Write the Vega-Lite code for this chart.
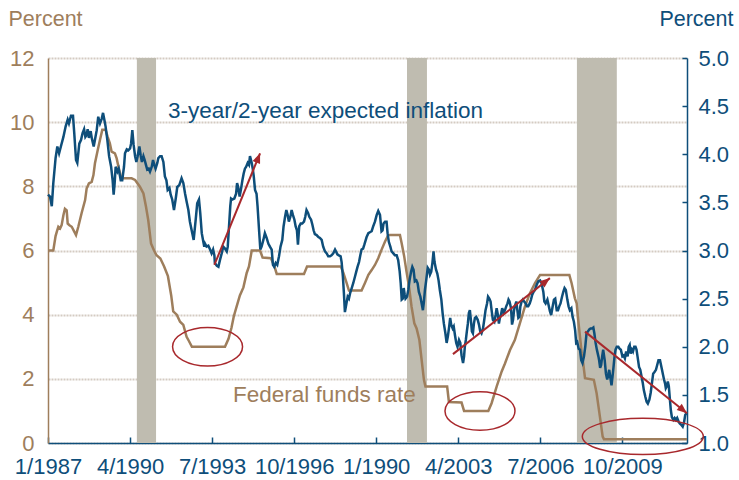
{
  "$schema": "https://vega.github.io/schema/vega-lite/v6.json",
  "width": 639,
  "height": 385,
  "autosize": {"type": "none"},
  "padding": {"left": 48, "top": 58, "right": 52, "bottom": 37},
  "background": "white",
  "config": {
    "view": {"stroke": null},
    "font": "Liberation Sans",
    "axis": {"labelFont": "Liberation Sans", "titleFont": "Liberation Sans"}
  },
  "datasets": {
    "blue": [
      {"t":1987.00,"r":3.58},{"t":1987.08,"r":3.56},{"t":1987.15,"r":3.46},{"t":1987.21,"r":3.70},{"t":1987.30,"r":3.96},{"t":1987.37,"r":4.08},{"t":1987.44,"r":4.01},{"t":1987.51,"r":4.08},{"t":1987.61,"r":4.18},{"t":1987.70,"r":4.29},{"t":1987.78,"r":4.36},{"t":1987.83,"r":4.32},{"t":1987.91,"r":4.40},{"t":1987.99,"r":4.40},
      {"t":1988.04,"r":4.22},{"t":1988.11,"r":3.94},{"t":1988.16,"r":3.91},{"t":1988.24,"r":4.11},{"t":1988.31,"r":4.15},{"t":1988.37,"r":4.22},{"t":1988.43,"r":4.26},{"t":1988.48,"r":4.18},{"t":1988.53,"r":4.20},{"t":1988.57,"r":4.26},{"t":1988.62,"r":4.17},{"t":1988.69,"r":4.24},{"t":1988.74,"r":4.16},{"t":1988.81,"r":4.08},{"t":1988.86,"r":4.15},{"t":1988.93,"r":4.25},{"t":1988.99,"r":4.39},
      {"t":1989.06,"r":4.32},{"t":1989.13,"r":4.37},{"t":1989.18,"r":4.43},{"t":1989.23,"r":4.36},{"t":1989.28,"r":4.29},{"t":1989.35,"r":4.15},{"t":1989.42,"r":3.98},{"t":1989.50,"r":3.87},{"t":1989.56,"r":3.73},{"t":1989.60,"r":3.58},{"t":1989.64,"r":3.70},{"t":1989.68,"r":3.87},{"t":1989.75,"r":3.82},{"t":1989.80,"r":3.85},{"t":1989.88,"r":3.73},{"t":1989.94,"r":3.73},
      {"t":1990.01,"r":3.87},{"t":1990.05,"r":4.01},{"t":1990.12,"r":4.05},{"t":1990.18,"r":4.04},{"t":1990.25,"r":4.06},{"t":1990.29,"r":4.11},{"t":1990.34,"r":4.25},{"t":1990.39,"r":4.10},{"t":1990.45,"r":3.98},{"t":1990.50,"r":3.92},{"t":1990.55,"r":3.98},{"t":1990.62,"r":4.08},{"t":1990.67,"r":3.99},{"t":1990.72,"r":3.92},{"t":1990.78,"r":3.98},{"t":1990.83,"r":3.94},{"t":1990.88,"r":3.89},{"t":1990.93,"r":3.84},{"t":1990.99,"r":3.85},
      {"t":1991.04,"r":3.82},{"t":1991.11,"r":3.87},{"t":1991.16,"r":3.94},{"t":1991.21,"r":3.89},{"t":1991.26,"r":3.85},{"t":1991.33,"r":3.91},{"t":1991.37,"r":3.96},{"t":1991.44,"r":3.98},{"t":1991.50,"r":3.98},{"t":1991.57,"r":3.92},{"t":1991.63,"r":3.77},{"t":1991.69,"r":3.73},{"t":1991.74,"r":3.63},{"t":1991.81,"r":3.65},{"t":1991.86,"r":3.58},{"t":1991.92,"r":3.53},{"t":1991.99,"r":3.42},
      {"t":1992.06,"r":3.54},{"t":1992.12,"r":3.66},{"t":1992.20,"r":3.68},{"t":1992.29,"r":3.75},{"t":1992.36,"r":3.70},{"t":1992.43,"r":3.59},{"t":1992.49,"r":3.51},{"t":1992.56,"r":3.42},{"t":1992.62,"r":3.30},{"t":1992.69,"r":3.21},{"t":1992.77,"r":3.11},{"t":1992.85,"r":3.32},{"t":1992.91,"r":3.49},{"t":1992.98,"r":3.53},
      {"t":1993.03,"r":3.39},{"t":1993.09,"r":3.18},{"t":1993.14,"r":3.11},{"t":1993.19,"r":3.04},{"t":1993.22,"r":3.07},{"t":1993.28,"r":3.04},{"t":1993.35,"r":3.05},{"t":1993.42,"r":3.01},{"t":1993.48,"r":2.97},{"t":1993.54,"r":3.01},{"t":1993.59,"r":2.95},{"t":1993.61,"r":2.87},{"t":1993.69,"r":2.84},{"t":1993.75,"r":2.83},{"t":1993.81,"r":2.90},{"t":1993.88,"r":2.97},{"t":1993.94,"r":3.04},
      {"t":1994.01,"r":3.02},{"t":1994.08,"r":2.99},{"t":1994.12,"r":3.04},{"t":1994.17,"r":3.25},{"t":1994.22,"r":3.46},{"t":1994.25,"r":3.54},{"t":1994.30,"r":3.53},{"t":1994.38,"r":3.54},{"t":1994.45,"r":3.59},{"t":1994.49,"r":3.70},{"t":1994.54,"r":3.65},{"t":1994.59,"r":3.56},{"t":1994.64,"r":3.63},{"t":1994.70,"r":3.73},{"t":1994.75,"r":3.80},{"t":1994.80,"r":3.85},{"t":1994.85,"r":3.87},{"t":1994.91,"r":3.91},{"t":1994.96,"r":3.89},
      {"t":1995.00,"r":3.98},{"t":1995.07,"r":3.91},{"t":1995.11,"r":3.85},{"t":1995.15,"r":3.77},{"t":1995.20,"r":3.63},{"t":1995.26,"r":3.59},{"t":1995.30,"r":3.46},{"t":1995.36,"r":3.21},{"t":1995.41,"r":3.01},{"t":1995.46,"r":3.04},{"t":1995.53,"r":3.11},{"t":1995.59,"r":3.18},{"t":1995.66,"r":3.13},{"t":1995.73,"r":3.07},{"t":1995.79,"r":3.04},{"t":1995.86,"r":3.01},{"t":1995.91,"r":2.85},{"t":1995.96,"r":2.83},
      {"t":1996.02,"r":2.87},{"t":1996.08,"r":2.85},{"t":1996.15,"r":2.94},{"t":1996.21,"r":3.04},{"t":1996.28,"r":3.11},{"t":1996.33,"r":3.25},{"t":1996.39,"r":3.35},{"t":1996.44,"r":3.42},{"t":1996.49,"r":3.37},{"t":1996.54,"r":3.30},{"t":1996.60,"r":3.35},{"t":1996.65,"r":3.42},{"t":1996.70,"r":3.37},{"t":1996.76,"r":3.32},{"t":1996.81,"r":3.25},{"t":1996.86,"r":3.21},{"t":1996.90,"r":3.06},{"t":1996.95,"r":3.25},
      {"t":1997.01,"r":3.28},{"t":1997.07,"r":3.28},{"t":1997.14,"r":3.30},{"t":1997.19,"r":3.35},{"t":1997.24,"r":3.42},{"t":1997.30,"r":3.39},{"t":1997.35,"r":3.35},{"t":1997.42,"r":3.32},{"t":1997.47,"r":3.27},{"t":1997.52,"r":3.21},{"t":1997.57,"r":3.17},{"t":1997.64,"r":3.16},{"t":1997.71,"r":3.14},{"t":1997.77,"r":3.13},{"t":1997.84,"r":3.11},{"t":1997.90,"r":3.04},{"t":1997.97,"r":2.99},
      {"t":1998.04,"r":2.97},{"t":1998.10,"r":2.94},{"t":1998.17,"r":2.94},{"t":1998.23,"r":2.95},{"t":1998.30,"r":2.97},{"t":1998.37,"r":3.01},{"t":1998.41,"r":2.99},{"t":1998.46,"r":2.96},{"t":1998.52,"r":2.95},{"t":1998.59,"r":2.94},{"t":1998.63,"r":2.88},{"t":1998.68,"r":2.73},{"t":1998.72,"r":2.56},{"t":1998.76,"r":2.36},{"t":1998.82,"r":2.45},{"t":1998.87,"r":2.52},{"t":1998.92,"r":2.50},{"t":1998.97,"r":2.56},
      {"t":1999.03,"r":2.61},{"t":1999.09,"r":2.66},{"t":1999.16,"r":2.73},{"t":1999.21,"r":2.78},{"t":1999.26,"r":2.83},{"t":1999.32,"r":2.88},{"t":1999.37,"r":2.95},{"t":1999.42,"r":3.01},{"t":1999.48,"r":3.02},{"t":1999.53,"r":3.06},{"t":1999.62,"r":3.14},{"t":1999.69,"r":3.18},{"t":1999.75,"r":3.19},{"t":1999.82,"r":3.20},{"t":1999.88,"r":3.25},{"t":1999.95,"r":3.30},
      {"t":2000.02,"r":3.37},{"t":2000.08,"r":3.41},{"t":2000.15,"r":3.37},{"t":2000.21,"r":3.20},{"t":2000.25,"r":3.21},{"t":2000.29,"r":3.28},{"t":2000.35,"r":3.30},{"t":2000.41,"r":3.30},{"t":2000.45,"r":3.18},{"t":2000.50,"r":3.09},{"t":2000.56,"r":3.04},{"t":2000.61,"r":2.99},{"t":2000.68,"r":2.97},{"t":2000.74,"r":2.95},{"t":2000.81,"r":2.95},{"t":2000.87,"r":2.90},{"t":2000.93,"r":2.78},{"t":2000.97,"r":2.66},
      {"t":2001.01,"r":2.49},{"t":2001.05,"r":2.50},{"t":2001.09,"r":2.61},{"t":2001.13,"r":2.54},{"t":2001.16,"r":2.50},{"t":2001.22,"r":2.52},{"t":2001.27,"r":2.59},{"t":2001.32,"r":2.69},{"t":2001.38,"r":2.78},{"t":2001.43,"r":2.83},{"t":2001.48,"r":2.80},{"t":2001.53,"r":2.68},{"t":2001.59,"r":2.69},{"t":2001.64,"r":2.66},{"t":2001.69,"r":2.57},{"t":2001.75,"r":2.52},{"t":2001.80,"r":2.45},{"t":2001.85,"r":2.38},{"t":2001.89,"r":2.47},{"t":2001.93,"r":2.59},{"t":2001.98,"r":2.69},
      {"t":2002.04,"r":2.82},{"t":2002.09,"r":2.80},{"t":2002.13,"r":2.75},{"t":2002.18,"r":2.78},{"t":2002.23,"r":2.88},{"t":2002.27,"r":2.99},{"t":2002.31,"r":2.88},{"t":2002.37,"r":2.80},{"t":2002.42,"r":2.76},{"t":2002.47,"r":2.69},{"t":2002.52,"r":2.59},{"t":2002.58,"r":2.49},{"t":2002.63,"r":2.35},{"t":2002.68,"r":2.24},{"t":2002.74,"r":2.14},{"t":2002.79,"r":2.04},{"t":2002.84,"r":2.11},{"t":2002.89,"r":2.21},{"t":2002.93,"r":2.30},{"t":2002.97,"r":2.23},
      {"t":2003.03,"r":2.19},{"t":2003.07,"r":2.21},{"t":2003.12,"r":2.12},{"t":2003.17,"r":2.04},{"t":2003.22,"r":2.00},{"t":2003.28,"r":2.07},{"t":2003.33,"r":2.04},{"t":2003.38,"r":1.91},{"t":2003.44,"r":1.83},{"t":2003.48,"r":1.90},{"t":2003.51,"r":2.00},{"t":2003.55,"r":2.07},{"t":2003.59,"r":2.16},{"t":2003.63,"r":2.24},{"t":2003.67,"r":2.35},{"t":2003.71,"r":2.38},{"t":2003.75,"r":2.28},{"t":2003.79,"r":2.16},{"t":2003.83,"r":2.14},{"t":2003.87,"r":2.24},{"t":2003.91,"r":2.30},{"t":2003.96,"r":2.31},
      {"t":2004.02,"r":2.28},{"t":2004.07,"r":2.23},{"t":2004.12,"r":2.16},{"t":2004.17,"r":2.14},{"t":2004.23,"r":2.19},{"t":2004.28,"r":2.28},{"t":2004.33,"r":2.38},{"t":2004.39,"r":2.45},{"t":2004.43,"r":2.52},{"t":2004.48,"r":2.50},{"t":2004.53,"r":2.47},{"t":2004.57,"r":2.38},{"t":2004.62,"r":2.28},{"t":2004.68,"r":2.26},{"t":2004.73,"r":2.33},{"t":2004.77,"r":2.40},{"t":2004.82,"r":2.33},{"t":2004.86,"r":2.24},{"t":2004.90,"r":2.30},{"t":2004.94,"r":2.33},{"t":2004.99,"r":2.40},
      {"t":2005.05,"r":2.35},{"t":2005.10,"r":2.38},{"t":2005.15,"r":2.42},{"t":2005.20,"r":2.45},{"t":2005.24,"r":2.49},{"t":2005.28,"r":2.47},{"t":2005.34,"r":2.40},{"t":2005.38,"r":2.23},{"t":2005.42,"r":2.28},{"t":2005.46,"r":2.38},{"t":2005.49,"r":2.42},{"t":2005.55,"r":2.47},{"t":2005.59,"r":2.38},{"t":2005.63,"r":2.30},{"t":2005.67,"r":2.31},{"t":2005.71,"r":2.42},{"t":2005.76,"r":2.47},{"t":2005.81,"r":2.49},{"t":2005.86,"r":2.47},{"t":2005.92,"r":2.45},{"t":2005.97,"r":2.42},
      {"t":2006.02,"r":2.42},{"t":2006.08,"r":2.45},{"t":2006.13,"r":2.49},{"t":2006.18,"r":2.54},{"t":2006.23,"r":2.57},{"t":2006.29,"r":2.59},{"t":2006.35,"r":2.64},{"t":2006.42,"r":2.68},{"t":2006.49,"r":2.69},{"t":2006.55,"r":2.66},{"t":2006.62,"r":2.57},{"t":2006.66,"r":2.47},{"t":2006.71,"r":2.45},{"t":2006.78,"r":2.49},{"t":2006.83,"r":2.43},{"t":2006.88,"r":2.37},{"t":2006.93,"r":2.33},{"t":2006.99,"r":2.42},
      {"t":2007.04,"r":2.49},{"t":2007.09,"r":2.50},{"t":2007.15,"r":2.38},{"t":2007.20,"r":2.38},{"t":2007.25,"r":2.42},{"t":2007.30,"r":2.45},{"t":2007.36,"r":2.52},{"t":2007.41,"r":2.57},{"t":2007.46,"r":2.61},{"t":2007.51,"r":2.59},{"t":2007.57,"r":2.49},{"t":2007.62,"r":2.42},{"t":2007.67,"r":2.38},{"t":2007.73,"r":2.40},{"t":2007.78,"r":2.31},{"t":2007.83,"r":2.26},{"t":2007.88,"r":2.17},{"t":2007.92,"r":2.04},{"t":2007.96,"r":2.05},
      {"t":2008.02,"r":1.98},{"t":2008.07,"r":1.97},{"t":2008.12,"r":1.86},{"t":2008.17,"r":1.83},{"t":2008.23,"r":1.90},{"t":2008.28,"r":2.00},{"t":2008.33,"r":2.14},{"t":2008.39,"r":2.16},{"t":2008.44,"r":2.18},{"t":2008.49,"r":2.19},{"t":2008.55,"r":2.19},{"t":2008.60,"r":2.20},{"t":2008.64,"r":2.14},{"t":2008.69,"r":2.04},{"t":2008.74,"r":1.97},{"t":2008.80,"r":1.90},{"t":2008.83,"r":1.86},{"t":2008.87,"r":1.78},{"t":2008.91,"r":1.81},{"t":2008.95,"r":1.90},{"t":2008.99,"r":1.97},
      {"t":2009.05,"r":1.86},{"t":2009.10,"r":1.72},{"t":2009.15,"r":1.66},{"t":2009.19,"r":1.71},{"t":2009.23,"r":1.76},{"t":2009.28,"r":1.67},{"t":2009.32,"r":1.60},{"t":2009.36,"r":1.69},{"t":2009.40,"r":1.79},{"t":2009.44,"r":1.90},{"t":2009.48,"r":1.97},{"t":2009.53,"r":2.00},{"t":2009.59,"r":2.00},{"t":2009.64,"r":1.98},{"t":2009.69,"r":1.97},{"t":2009.75,"r":1.90},{"t":2009.80,"r":1.91},{"t":2009.85,"r":1.88},{"t":2009.90,"r":1.95},{"t":2009.96,"r":1.90},
      {"t":2010.00,"r":2.00},{"t":2010.04,"r":2.02},{"t":2010.08,"r":1.93},{"t":2010.13,"r":1.97},{"t":2010.17,"r":1.95},{"t":2010.22,"r":2.00},{"t":2010.27,"r":2.00},{"t":2010.31,"r":1.97},{"t":2010.35,"r":1.90},{"t":2010.41,"r":1.79},{"t":2010.46,"r":1.76},{"t":2010.51,"r":1.69},{"t":2010.56,"r":1.62},{"t":2010.60,"r":1.55},{"t":2010.66,"r":1.48},{"t":2010.71,"r":1.43},{"t":2010.76,"r":1.41},{"t":2010.82,"r":1.45},{"t":2010.87,"r":1.52},{"t":2010.92,"r":1.62},{"t":2010.97,"r":1.72},
      {"t":2011.03,"r":1.74},{"t":2011.08,"r":1.76},{"t":2011.13,"r":1.81},{"t":2011.18,"r":1.86},{"t":2011.24,"r":1.86},{"t":2011.28,"r":1.81},{"t":2011.32,"r":1.76},{"t":2011.36,"r":1.71},{"t":2011.40,"r":1.66},{"t":2011.44,"r":1.62},{"t":2011.47,"r":1.57},{"t":2011.51,"r":1.59},{"t":2011.55,"r":1.64},{"t":2011.59,"r":1.59},{"t":2011.63,"r":1.46},{"t":2011.67,"r":1.34},{"t":2011.71,"r":1.27},{"t":2011.77,"r":1.24},{"t":2011.82,"r":1.26},{"t":2011.87,"r":1.24},{"t":2011.92,"r":1.26},{"t":2011.98,"r":1.22},
      {"t":2012.03,"r":1.20},{"t":2012.08,"r":1.19},{"t":2012.14,"r":1.17},{"t":2012.19,"r":1.21},{"t":2012.24,"r":1.29},{"t":2012.29,"r":1.31}
    ],
    "ff": [
      {"t":1987.00,"ff":6.00},{"t":1987.21,"ff":6.00},{"t":1987.30,"ff":6.45},{"t":1987.35,"ff":6.59},{"t":1987.41,"ff":6.74},{"t":1987.48,"ff":6.69},{"t":1987.54,"ff":6.79},{"t":1987.61,"ff":7.10},{"t":1987.67,"ff":7.30},{"t":1987.74,"ff":7.25},{"t":1987.78,"ff":6.84},{"t":1987.85,"ff":6.79},{"t":1987.94,"ff":6.74},
      {"t":1988.04,"ff":6.59},{"t":1988.11,"ff":6.48},{"t":1988.20,"ff":6.74},{"t":1988.33,"ff":7.16},{"t":1988.47,"ff":7.57},{"t":1988.53,"ff":7.93},{"t":1988.62,"ff":8.09},{"t":1988.73,"ff":8.14},{"t":1988.80,"ff":8.35},{"t":1988.86,"ff":8.72},{"t":1988.97,"ff":9.13},
      {"t":1989.06,"ff":9.45},{"t":1989.15,"ff":9.76},{"t":1989.28,"ff":9.76},{"t":1989.36,"ff":9.55},{"t":1989.45,"ff":9.34},{"t":1989.52,"ff":9.08},{"t":1989.65,"ff":9.03},{"t":1989.72,"ff":8.87},{"t":1989.79,"ff":8.61},{"t":1989.89,"ff":8.30},{"t":1989.98,"ff":8.25},
      {"t":1990.31,"ff":8.25},{"t":1990.45,"ff":8.20},{"t":1990.64,"ff":7.99},{"t":1990.78,"ff":7.78},{"t":1990.88,"ff":7.37},{"t":1990.97,"ff":6.95},{"t":1991.08,"ff":6.22},{"t":1991.20,"ff":6.00},{"t":1991.30,"ff":5.85},{"t":1991.45,"ff":5.75},{"t":1991.60,"ff":5.50},{"t":1991.75,"ff":5.20},{"t":1991.88,"ff":4.60},{"t":1991.96,"ff":4.10},
      {"t":1992.10,"ff":4.00},{"t":1992.23,"ff":3.78},{"t":1992.36,"ff":3.68},{"t":1992.49,"ff":3.31},{"t":1992.56,"ff":3.21},{"t":1992.70,"ff":3.00},{"t":1994.01,"ff":3.00},{"t":1994.15,"ff":3.25},{"t":1994.27,"ff":3.60},{"t":1994.36,"ff":3.95},{"t":1994.47,"ff":4.25},{"t":1994.60,"ff":4.60},{"t":1994.74,"ff":4.85},{"t":1994.87,"ff":5.30},{"t":1994.96,"ff":5.50},
      {"t":1995.07,"ff":6.00},{"t":1995.40,"ff":6.00},{"t":1995.50,"ff":5.78},{"t":1995.83,"ff":5.76},{"t":1995.97,"ff":5.50},{"t":1996.06,"ff":5.27},{"t":1997.14,"ff":5.27},{"t":1997.26,"ff":5.50},{"t":1998.60,"ff":5.50},{"t":1998.70,"ff":5.30},{"t":1998.83,"ff":4.98},{"t":1998.92,"ff":4.75},
      {"t":1999.42,"ff":4.75},{"t":1999.55,"ff":4.98},{"t":1999.69,"ff":5.24},{"t":1999.82,"ff":5.39},{"t":1999.95,"ff":5.55},{"t":2000.08,"ff":5.76},{"t":2000.21,"ff":6.02},{"t":2000.35,"ff":6.28},{"t":2000.48,"ff":6.48},{"t":2000.94,"ff":6.48},
      {"t":2001.01,"ff":6.22},{"t":2001.11,"ff":5.81},{"t":2001.20,"ff":5.34},{"t":2001.30,"ff":4.87},{"t":2001.40,"ff":4.25},{"t":2001.51,"ff":3.73},{"t":2001.60,"ff":3.57},{"t":2001.71,"ff":3.21},{"t":2001.80,"ff":2.58},{"t":2001.89,"ff":1.97},{"t":2001.95,"ff":1.76},
      {"t":2002.81,"ff":1.76},{"t":2002.88,"ff":1.28},{"t":2003.38,"ff":1.26},{"t":2003.48,"ff":1.00},{"t":2004.44,"ff":1.00},{"t":2004.57,"ff":1.24},{"t":2004.77,"ff":1.76},{"t":2004.97,"ff":2.23},{"t":2005.10,"ff":2.48},{"t":2005.30,"ff":2.90},{"t":2005.49,"ff":3.21},{"t":2005.69,"ff":3.73},{"t":2005.89,"ff":4.25},
      {"t":2006.09,"ff":4.67},{"t":2006.29,"ff":4.98},{"t":2006.49,"ff":5.24},{"t":2007.65,"ff":5.24},{"t":2007.74,"ff":4.98},{"t":2007.87,"ff":4.51},{"t":2007.94,"ff":4.35},{"t":2008.00,"ff":3.84},{"t":2008.07,"ff":3.32},{"t":2008.14,"ff":2.80},{"t":2008.20,"ff":2.48},{"t":2008.27,"ff":2.02},{"t":2008.62,"ff":1.97},{"t":2008.73,"ff":1.55},{"t":2008.86,"ff":0.82},{"t":2008.97,"ff":0.20},
      {"t":2009.02,"ff":0.12},{"t":2012.31,"ff":0.12}
    ],
    "arrows": [
      {"id":1,"t":1993.59,"v":2.85,"t2":1995.40,"v2":4.01},
      {"id":2,"t":2003.04,"v":1.923,"t2":2006.88,"v2":2.713},
      {"id":3,"t":2008.27,"v":2.157,"t2":2012.31,"v2":1.31}
    ],
    "ellipses": [
      {"g":"a","t":1993.32,"v":2.0},
      {"g":"a","t":2004.11,"v":1.333},
      {"g":"b","t":2010.56,"v":1.068}
    ]
  },
  "layer": [
    {
      "layer": [
        {
          "data": {"values": [{"t":1990.52,"t2":1991.28},{"t":2001.22,"t2":2002.01},{"t":2007.95,"t2":2009.53}]},
          "mark": {"type": "rect", "color": "#BFBCB0"},
          "encoding": {
            "x": {"field": "t", "type": "quantitative"},
            "x2": {"field": "t2"},
            "y": {"datum": 12, "type": "quantitative"},
            "y2": {"datum": 0}
          }
        },
        {
          "data": {"name": "ff"},
          "mark": {"type": "line", "color": "#9E7E5C", "strokeWidth": 2.5},
          "encoding": {
            "x": {
              "field": "t", "type": "quantitative",
              "scale": {"domain": [1987, 2012.31], "nice": false, "zero": false},
              "axis": {
                "values": [1987, 1990.25, 1993.5, 1996.75, 2000, 2003.25, 2006.5, 2009.75],
                "labelExpr": "datum.value == 2000 ? '1/1990' : (round((datum.value - floor(datum.value)) * 12) + 1) + '/' + floor(datum.value)",
                "title": null, "grid": false,
                "domainColor": "#0E4E7A", "domainWidth": 1.5,
                "tickColor": "#0E4E7A", "tickSize": -6, "tickWidth": 1.5,
                "labelColor": "#0E4E7A", "labelFontSize": 22, "labelPadding": 19, "labelFlush": false
              }
            },
            "y": {
              "field": "ff", "type": "quantitative",
              "scale": {"domain": [0, 12], "nice": false, "zero": false},
              "axis": {
                "values": [0, 2, 4, 6, 8, 10, 12],
                "grid": true, "gridColor": "#D4CBC2", "gridWidth": 2, "gridDash": [2, 1],
                "ticks": false,
                "domainColor": "#9E7E5C", "domainWidth": 1.5,
                "labelColor": "#9E7E5C", "labelFontSize": 22, "labelPadding": 14,
                "title": "Percent", "titleAngle": 0, "titleAlign": "left", "titleBaseline": "alphabetic",
                "titleX": -40, "titleY": -33, "titleColor": "#9E7E5C", "titleFontSize": 21.5, "titleFontWeight": "normal"
              }
            }
          }
        },
        {
          "data": {"values": [{"t": 1994.33, "v": 1.29, "label": "Federal funds rate"}]},
          "mark": {"type": "text", "align": "left", "baseline": "alphabetic", "fontSize": 22.5, "color": "#9E7E5C"},
          "encoding": {
            "x": {"field": "t", "type": "quantitative"},
            "y": {"field": "v", "type": "quantitative"},
            "text": {"field": "label"}
          }
        }
      ]
    },
    {
      "layer": [
        {
          "data": {"name": "blue"},
          "mark": {"type": "line", "color": "#0E4E7A", "strokeWidth": 2.5},
          "encoding": {
            "x": {"field": "t", "type": "quantitative"},
            "y": {
              "field": "r", "type": "quantitative",
              "scale": {"domain": [1, 5], "nice": false, "zero": false},
              "axis": {
                "orient": "right",
                "values": [1, 1.5, 2, 2.5, 3, 3.5, 4, 4.5, 5], "format": ".1f",
                "grid": false,
                "domainColor": "#0E4E7A", "domainWidth": 1.5,
                "tickColor": "#0E4E7A", "tickSize": -5, "tickWidth": 1.5,
                "labelColor": "#0E4E7A", "labelFontSize": 22, "labelPadding": 16,
                "title": "Percent", "titleAngle": 0, "titleAlign": "right", "titleBaseline": "alphabetic",
                "titleX": 46, "titleY": -33, "titleColor": "#0E4E7A", "titleFontSize": 21.5, "titleFontWeight": "normal"
              }
            }
          }
        },
        {
          "data": {"name": "arrows"},
          "mark": {"type": "rule", "color": "#A8282C", "strokeWidth": 2},
          "encoding": {
            "x": {"field": "t", "type": "quantitative"},
            "y": {"field": "v", "type": "quantitative"},
            "x2": {"field": "t2"},
            "y2": {"field": "v2"}
          }
        },
        {
          "data": {"name": "arrows"},
          "transform": [{"filter": "datum.id == 1"}],
          "mark": {"type": "point", "shape": "M0,0 L0.8,2 L-0.8,2 Z", "size": 100, "filled": true, "color": "#A8282C", "opacity": 1, "angle": 22},
          "encoding": {
            "x": {"field": "t2", "type": "quantitative"},
            "y": {"field": "v2", "type": "quantitative"}
          }
        },
        {
          "data": {"name": "arrows"},
          "transform": [{"filter": "datum.id == 2"}],
          "mark": {"type": "point", "shape": "M0,0 L0.8,2 L-0.8,2 Z", "size": 100, "filled": true, "color": "#A8282C", "opacity": 1, "angle": 52},
          "encoding": {
            "x": {"field": "t2", "type": "quantitative"},
            "y": {"field": "v2", "type": "quantitative"}
          }
        },
        {
          "data": {"name": "arrows"},
          "transform": [{"filter": "datum.id == 3"}],
          "mark": {"type": "point", "shape": "M0,0 L0.8,2 L-0.8,2 Z", "size": 100, "filled": true, "color": "#A8282C", "opacity": 1, "angle": 129},
          "encoding": {
            "x": {"field": "t2", "type": "quantitative"},
            "y": {"field": "v2", "type": "quantitative"}
          }
        },
        {
          "data": {"name": "ellipses"},
          "transform": [{"filter": "datum.g == 'a'"}],
          "mark": {"type": "point", "shape": "M -1 0 A 1 0.55 0 1 0 1 0 A 1 0.55 0 1 0 -1 0 Z", "size": 4900, "filled": false, "color": "#A8282C", "strokeWidth": 1.5, "opacity": 1},
          "encoding": {
            "x": {"field": "t", "type": "quantitative"},
            "y": {"field": "v", "type": "quantitative"}
          }
        },
        {
          "data": {"name": "ellipses"},
          "transform": [{"filter": "datum.g == 'b'"}],
          "mark": {"type": "point", "shape": "M -1 0 A 1 0.3 0 1 0 1 0 A 1 0.3 0 1 0 -1 0 Z", "size": 14641, "filled": false, "color": "#A8282C", "strokeWidth": 1.5, "opacity": 1},
          "encoding": {
            "x": {"field": "t", "type": "quantitative"},
            "y": {"field": "v", "type": "quantitative"}
          }
        },
        {
          "data": {"values": [{"t": 1991.75, "v": 4.377, "label": "3-year/2-year expected inflation"}]},
          "mark": {"type": "text", "align": "left", "baseline": "alphabetic", "fontSize": 22.5, "color": "#0E4E7A"},
          "encoding": {
            "x": {"field": "t", "type": "quantitative"},
            "y": {"field": "v", "type": "quantitative"},
            "text": {"field": "label"}
          }
        }
      ]
    }
  ],
  "resolve": {"scale": {"y": "independent"}, "axis": {"y": "independent"}}
}
